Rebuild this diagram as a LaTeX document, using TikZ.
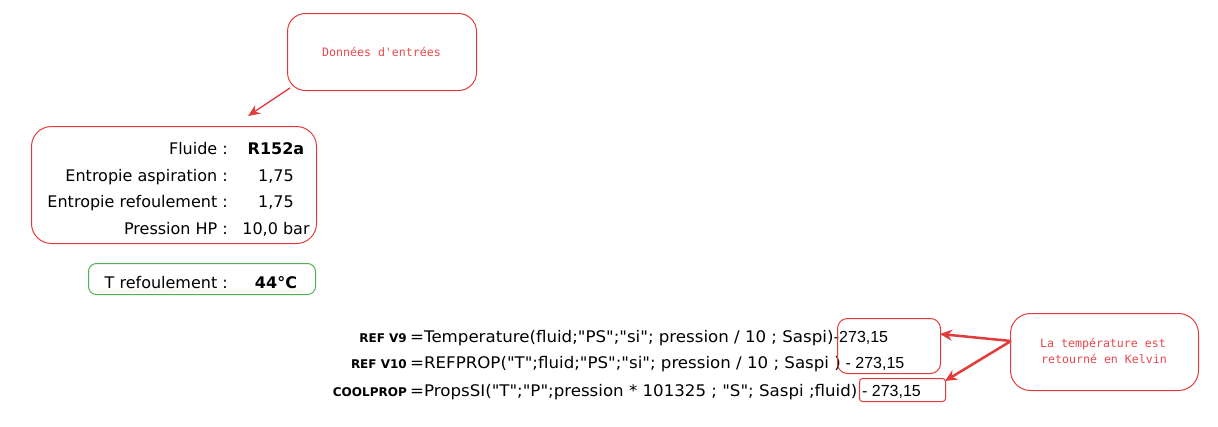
\documentclass[tikz,border=0pt]{standalone}
\usepackage{fontspec}
\usepackage{graphicx}
\setmainfont{DejaVu Sans}[Ligatures=TeXOff]
\newfontfamily\arialfont{Liberation Sans}[Ligatures=TeXOff]
\newfontfamily\monofont{DejaVu Sans Mono}[Ligatures=TeXOff]
\usetikzlibrary{arrows.meta}
\definecolor{redline}{HTML}{E23B3B}
\definecolor{redtext}{HTML}{E8474B}
\definecolor{greenline}{HTML}{52B152}
\newcommand\qq{"}
\newcommand\wide[1]{\scalebox{1.04}[1]{#1}}
\begin{document}
\begin{tikzpicture}[x=1pt,y=-1pt,
  redbox/.style={draw=redline,line width=1pt,inner sep=0pt,anchor=north west},
  greenbox/.style={draw=greenline,line width=1pt,inner sep=0pt,anchor=north west,rounded corners=8pt},
  lbl/.style={inner sep=0pt,font=\fontsize{16}{19}\selectfont,anchor=base east},
  val/.style={inner sep=0pt,font=\fontsize{16}{19}\selectfont,anchor=base},
  bval/.style={inner sep=0pt,font=\fontsize{16}{19}\selectfont\bfseries,anchor=base},
  flbl/.style={inner sep=0pt,font=\fontsize{12}{14}\selectfont\bfseries,anchor=base east},
  ftxt/.style={inner sep=0pt,font=\fontsize{16}{18}\selectfont,anchor=base west},
  ktxt/.style={inner sep=0pt,font=\arialfont\fontsize{16}{18}\selectfont,anchor=base west},
  note/.style={inner sep=0pt,font=\fontsize{11.6}{15.5}\selectfont\monofont,text=redtext,align=center},
  thinarrow/.style={draw=redline,line width=1.3pt,-{Stealth[length=12pt,width=10pt]}},
  thickarrow/.style={draw=redline,line width=2.5pt,-{Stealth[length=12pt,width=11pt]}}
]
\useasboundingbox (0,0) rectangle (1218,426);
% Données d'entrées
\node[redbox,rounded corners=18pt,minimum width=189pt,minimum height=77pt] (data) at (287,13) {};
\node[note,anchor=base] (datatxt) at (381.5,56) {Données d'entrées};
% main input box
\node[redbox,rounded corners=20pt,minimum width=285pt,minimum height=117pt] (inbox) at (31,126) {};
\node[lbl] (l1) at (228,154) {Fluide :};
\node[lbl] (l2) at (228,181) {Entropie aspiration :};
\node[lbl] (l3) at (228,207) {Entropie refoulement :};
\node[lbl] (l4) at (228,234) {Pression HP :};
\node[bval] (v1) at (276,154) {R152a};
\node[val] (v2) at (276,181) {1,75};
\node[val] (v3) at (276,207) {1,75};
\node[val] (v4) at (276,234) {10,0 bar};
% arrow
\coordinate (dstart) at (290,88);
\coordinate (dend) at (248,116);
\draw[thinarrow] (dstart) -- (dend);
% green box
\node[greenbox,minimum width=227pt,minimum height=31pt] (outbox) at (88,263) {};
\node[lbl] (tl) at (228,288) {T refoulement :};
\node[bval] (tv) at (276,288) {44°C};
% formulas
\node[flbl] (f1l) at (407,342) {REF V9};
\node[flbl] (f2l) at (407,368) {REF V10};
\node[flbl] (f3l) at (407,396) {COOLPROP};
\node[ftxt] (f1) at (410,342) {\wide{=Temperature(fluid;\qq PS\qq;\qq si\qq; pression / 10 ; Saspi)}};
\node[ktxt] (f1k) at (f1.base east) {-273,15};
\node[ftxt] (f2) at (410,368) {\wide{=REFPROP(\qq T\qq;fluid;\qq PS\qq;\qq si\qq; pression / 10 ; Saspi )}};
\node[ktxt] (f2k) at (f2.base east) {\ - 273,15};
\node[ftxt] (f3) at (410,396) {\wide{=PropsSI(\qq T\qq;\qq P\qq;pression * 101325 ; \qq S\qq; Saspi ;fluid)}};
\node[ktxt] (f3k) at (f3.base east) {\ - 273,15};
% result boxes
\node[redbox,rounded corners=10pt,minimum width=103pt,minimum height=55pt] (r1) at (837,318) {};
\node[redbox,rounded corners=3pt,minimum width=86pt,minimum height=23pt] (r2) at (859,378) {};
% Kelvin note
\node[redbox,rounded corners=20pt,minimum width=188pt,minimum height=77pt] (kel) at (1010,313) {};
\node[note,anchor=base] (keltxt1) at (1103,347) {La température est};
\node[note,anchor=base] (keltxt2) at (1104,363) {retourné en Kelvin};
\coordinate (kstart) at (1011,341);
\coordinate (k1end) at (940,334);
\coordinate (k2end) at (945,381);
\draw[thickarrow] (kstart) -- (k1end);
\draw[thickarrow] (kstart) -- (k2end);
\end{tikzpicture}
\end{document}
